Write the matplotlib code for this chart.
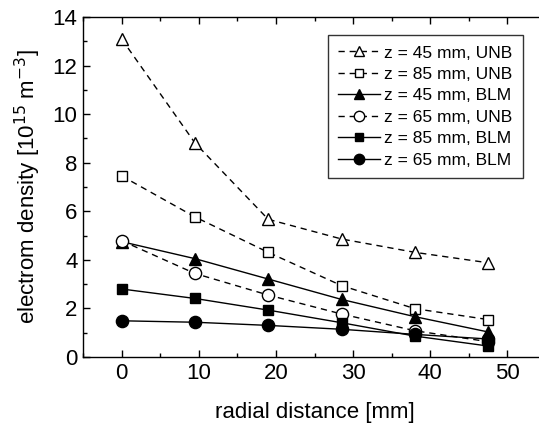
import matplotlib
matplotlib.use("Agg")
import matplotlib.pyplot as plt
from matplotlib.ticker import MultipleLocator

plt.rcParams['font.family'] = ['Liberation Sans', 'DejaVu Sans']

x = [0, 9.5, 19, 28.5, 38, 47.5]
unb45 = [13.1, 8.82, 5.67, 4.86, 4.31, 3.88]
unb85 = [7.46, 5.77, 4.31, 2.94, 1.99, 1.54]
blm45 = [4.75, 4.05, 3.21, 2.37, 1.66, 1.03]
unb65 = [4.79, 3.44, 2.55, 1.77, 1.08, 0.63]
blm85 = [2.80, 2.41, 1.93, 1.41, 0.86, 0.45]
blm65 = [1.49, 1.43, 1.30, 1.14, 0.93, 0.74]

labels = ["z = 45 mm, UNB", "z = 85 mm, UNB", "z = 45 mm, BLM",
          "z = 65 mm, UNB", "z = 85 mm, BLM", "z = 65 mm, BLM"]

fig = plt.figure(figsize=(5.39, 4.28), dpi=100)
ax = fig.add_axes([0.154, 0.166, 0.859, 0.794])

ms = 8.8
dash = (0, (4.5, 3.5))
base = dict(color='black', linewidth=1.0, markeredgewidth=1.0, markeredgecolor='black')
ax.plot(x, unb45, linestyle=dash, marker='^', markerfacecolor='white', markersize=ms, label=labels[0], **base)
ax.plot(x, unb85, linestyle=dash, marker='s', markerfacecolor='white', markersize=ms - 1.2, label=labels[1], **base)
ax.plot(x, blm45, linestyle='-', marker='^', markerfacecolor='black', markersize=ms, label=labels[2], **base)
ax.plot(x, unb65, linestyle=dash, marker='o', markerfacecolor='white', markersize=ms, label=labels[3], **base)
ax.plot(x, blm85, linestyle='-', marker='s', markerfacecolor='black', markersize=ms - 1.2, label=labels[4], **base)
ax.plot(x, blm65, linestyle='-', marker='o', markerfacecolor='black', markersize=ms, label=labels[5], **base)

ax.set_xlim(-5, 55)
ax.set_ylim(0, 14)
ax.xaxis.set_major_locator(MultipleLocator(10))
ax.xaxis.set_minor_locator(MultipleLocator(5))
ax.yaxis.set_major_locator(MultipleLocator(2))
ax.yaxis.set_minor_locator(MultipleLocator(1))
ax.tick_params(which='both', direction='in', top=True, right=True, labelsize=16, pad=4)
ax.tick_params(which='major', length=5, width=1)
ax.tick_params(which='minor', length=3, width=1)
for s in ax.spines.values():
    s.set_linewidth(1.0)

ax.set_xlabel("radial distance [mm]", fontsize=16, labelpad=13)
ax.set_ylabel(r"electrom density [10$^{15}$ m$^{-3}$]", fontsize=16, labelpad=7)

leg = ax.legend(loc='upper left', bbox_to_anchor=(328 / 539, 1 - 35 / 428),
                bbox_transform=fig.transFigure, fontsize=12.5, frameon=True,
                fancybox=False, edgecolor='black', handlelength=2.4,
                handletextpad=0.25, labelspacing=0.36, borderpad=0.6,
                borderaxespad=0, markerscale=0.85)
leg.get_frame().set_linewidth(1.0)

fig.savefig("out.png", dpi=100)
